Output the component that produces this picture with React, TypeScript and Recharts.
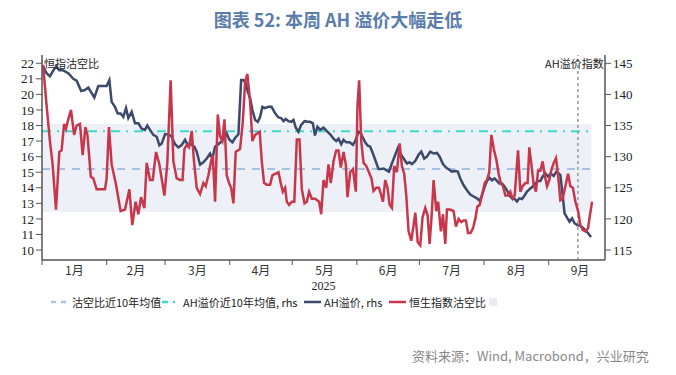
import { ComposedChart, Line, XAxis, YAxis, ReferenceArea, ReferenceLine } from 'recharts'

// x axis is "days since 1 Jan 2025"
const monthStarts = [0, 31, 59, 90, 120, 151, 181, 212, 243]
const monthMids = [15.5, 45, 74.5, 105, 135.5, 166, 196.5, 227.5, 258]
const monthNames = ['1月', '2月', '3月', '4月', '5月', '6月', '7月', '8月', '9月']
const leftTicks = [10, 11, 12, 13, 14, 15, 16, 17, 18, 19, 20, 21, 22]
const rightTicks = [115, 120, 125, 130, 135, 140, 145]

// 恒生指数沽空比 (lhs)
const shortDays = [
  0.5, 2.2, 3.8, 5.1, 6.7, 8.3, 9.4, 10.6, 11.5, 12.6, 13.9, 15.4, 16.6, 18.2, 19.5, 20.8, 21.8, 23.4, 24.6, 26.2,
  27.8, 30.2, 31.0, 32.1, 33.4, 35.5, 37.7, 39.8, 41.9, 43.3, 44.9, 46.2, 47.5, 49.1, 50.2, 51.8, 53.1, 54.7, 56.3, 58.7,
  60.1, 61.7, 63.0, 64.6, 66.2, 67.4, 68.3, 69.4, 70.5, 71.8, 72.9, 74.2, 75.8, 77.4, 78.5, 79.8, 81.1, 81.9, 83.0, 84.3,
  85.4, 86.5, 87.5, 88.6, 89.7, 90.7, 91.8, 92.9, 93.9, 95.0, 96.3, 97.4, 98.5, 99.8, 100.9, 102.2, 103.3, 104.4, 105.4, 106.5,
  107.8, 109.4, 110.5, 111.8, 113.4, 114.5, 115.5, 116.6, 117.4, 118.5, 119.8, 121.0, 122.2, 123.5, 124.6, 125.9, 127.0, 128.1, 129.4, 131.0,
  132.9, 133.9, 135.0, 136.3, 137.4, 138.5, 139.8, 141.1, 142.2, 143.3, 144.6, 145.7, 146.5, 147.8, 149.1, 150.5, 151.3, 152.1, 153.1, 154.2,
  155.5, 156.8, 158.0, 159.0, 160.3, 161.6, 162.5, 163.5, 164.6, 165.7, 166.7, 167.8, 168.9, 170.2, 171.5, 172.6, 173.7, 174.7, 175.8, 177.1,
  178.2, 179.0, 180.2, 181.4, 182.5, 183.8, 184.9, 185.9, 187.0, 187.8, 189.1, 190.0, 191.3, 192.3, 193.4, 194.2, 195.8, 197.4, 198.5, 199.8,
  201.1, 202.2, 203.3, 204.3, 205.5, 206.7, 207.8, 208.8, 209.9, 211.0, 212.3, 213.4, 214.5, 215.5, 216.8, 217.9, 219.0, 220.0, 221.1, 222.2,
  223.5, 224.6, 225.7, 226.7, 227.5, 228.3, 229.4, 230.5, 231.8, 232.9, 233.7, 234.7, 235.8, 236.9, 237.9, 239.0, 240.1, 241.1, 242.2, 243.3,
  244.2, 245.4, 246.5, 247.5, 248.6, 249.7, 251.0, 252.3, 253.4, 254.6, 255.8, 257.1, 258.2, 259.3, 260.6, 261.9, 262.5, 263.8,
]
const shortRatio = [
  21.9, 19.3, 17.0, 15.5, 12.6, 16.3, 16.4, 18.1, 17.8, 18.4, 19.0, 17.4, 18.0, 18.1, 16.1, 17.9, 17.4, 14.7, 14.6, 13.9,
  13.9, 13.9, 14.6, 17.9, 15.5, 14.2, 12.5, 12.6, 13.9, 11.6, 13.1, 12.3, 13.4, 12.7, 15.6, 14.5, 14.5, 16.3, 15.5, 13.5,
  15.6, 20.9, 15.7, 14.6, 14.5, 14.5, 16.5, 16.75, 16.6, 17.65, 15.7, 14.0, 13.6, 14.3, 14.1, 14.8, 15.7, 16.1, 13.1, 18.7,
  17.3, 17.0, 18.4, 14.8, 14.3, 14.0, 13.0, 16.3, 16.4, 16.5, 18.25, 20.8, 21.3, 19.5, 17.0, 17.4, 17.5, 17.6, 15.7, 14.3,
  14.2, 14.2, 14.8, 14.9, 15.0, 14.3, 13.75, 14.0, 13.1, 12.9, 13.1, 13.1, 17.1, 17.1, 13.9, 13.0, 13.1, 13.75, 13.3, 13.3,
  13.1, 12.3, 14.5, 14.0, 15.5, 14.3, 15.7, 16.4, 16.4, 15.3, 16.3, 15.5, 13.4, 15.0, 15.2, 13.75, 19.3, 20.9, 17.0, 15.6,
  15.4, 15.0, 14.6, 13.8, 14.0, 14.0, 13.6, 13.1, 14.5, 14.0, 12.9, 12.7, 15.4, 15.0, 16.85, 15.4, 14.9, 13.5, 11.2, 10.6,
  11.6, 12.4, 10.5, 10.3, 12.1, 12.7, 12.25, 10.4, 12.5, 14.5, 12.5, 13.1, 11.2, 12.3, 10.4, 12.6, 12.6, 12.5, 11.5, 12.0,
  11.8, 11.9, 11.9, 11.1, 11.1, 11.4, 12.0, 12.8, 12.9, 13.5, 14.3, 14.5, 15.0, 17.4, 16.4, 15.8, 14.9, 14.3, 14.1, 13.5,
  13.5, 13.75, 13.3, 13.5, 15.0, 16.4, 13.75, 14.1, 14.3, 14.3, 16.6, 15.5, 14.2, 13.75, 15.1, 15.1, 15.7, 14.8, 14.1, 14.5,
  15.1, 15.6, 15.9, 14.8, 13.2, 13.3, 14.1, 14.9, 14.1, 14.0, 13.1, 12.5, 11.6, 11.3, 11.2, 11.4, 12.0, 13.1,
]

// AH溢价指数 (rhs)
const ahDays = [
  0.5, 2.2, 3.8, 5.1, 6.7, 8.3, 10.0, 12.6, 15.0, 16.6, 18.8, 20.6, 22.2, 23.8, 25.1, 27.0, 29.4, 31.0, 32.3, 33.4,
  35.0, 36.3, 37.7, 39.0, 40.3, 41.4, 43.0, 44.6, 46.2, 47.8, 49.4, 50.5, 51.8, 53.4, 55.0, 56.3, 57.4, 59.0, 60.6, 62.2,
  63.8, 65.4, 67.0, 68.6, 69.9, 71.5, 73.1, 74.2, 75.8, 77.4, 79.0, 80.6, 81.7, 83.0, 84.6, 86.2, 87.8, 88.6, 89.7, 91.3,
  92.6, 94.2, 95.5, 96.6, 97.7, 98.7, 99.8, 100.9, 102.2, 103.5, 104.6, 105.7, 106.9, 108.5, 110.1, 111.8, 113.4, 114.7, 115.8, 116.9,
  118.2, 119.5, 120.6, 121.7, 123.0, 124.3, 125.9, 127.5, 128.6, 129.9, 130.9, 132.1, 133.4, 135.0, 136.6, 138.2, 139.8, 141.1, 142.2, 143.5,
  144.6, 145.9, 147.5, 149.1, 150.2, 151.8, 152.9, 153.9, 155.0, 156.1, 157.4, 158.7, 160.0, 161.4, 162.5, 163.8, 165.1, 166.4, 167.8, 169.4,
  170.7, 171.8, 173.4, 175.0, 176.3, 177.4, 179.0, 180.6, 181.9, 183.3, 184.6, 186.2, 187.8, 189.4, 190.7, 192.3, 193.9, 195.5, 196.6, 198.2,
  199.4, 200.6, 202.2, 203.8, 205.4, 207.0, 208.6, 209.9, 211.0, 212.3, 213.4, 214.7, 215.8, 217.0, 218.2, 219.3, 220.6, 221.8, 223.0, 224.1,
  225.4, 226.7, 227.8, 228.9, 230.2, 231.5, 232.6, 234.2, 235.3, 236.6, 237.9, 239.0, 240.1, 241.4, 242.7, 243.9, 245.4, 246.7, 247.8, 248.6,
  249.7, 250.6, 251.8, 253.0, 254.2, 255.4, 256.7, 258.2, 259.3, 260.6, 261.9, 263.3,
]
const ahPremium = [
  144.5, 143.4, 142.9, 143.65, 144.5, 143.9, 143.9, 143.4, 142.5, 142.2, 140.55, 140.7, 141.1, 140.2, 139.5, 141.35, 141.35, 141.35, 142.3, 138.8,
  138.0, 136.95, 136.95, 136.4, 137.8, 136.2, 137.2, 135.35, 135.35, 134.5, 134.3, 135.0, 134.3, 133.5, 133.2, 131.8, 132.1, 133.6, 133.6, 133.2,
  132.0, 131.5, 131.87, 132.7, 131.87, 132.0, 131.6, 130.8, 128.7, 129.1, 129.7, 130.5, 129.7, 131.6, 132.0, 132.5, 133.2, 133.7, 132.8, 132.3,
  133.0, 133.6, 142.3, 142.3, 141.8, 140.4, 139.4, 137.5, 135.9, 135.6, 136.4, 138.0, 137.8, 138.0, 138.0, 136.95, 136.3, 136.2, 135.7, 136.05,
  135.7, 135.6, 135.9, 134.65, 134.0, 135.1, 135.7, 135.6, 135.6, 135.35, 133.4, 134.8, 134.3, 134.65, 134.1, 133.6, 132.9, 132.5, 132.9, 132.0,
  132.7, 132.3, 132.3, 131.9, 132.5, 134.0, 133.75, 133.05, 132.3, 131.8, 131.6, 130.5, 129.3, 128.0, 128.0, 128.1, 127.85, 127.6, 128.9, 130.3,
  131.4, 130.5, 129.7, 128.9, 129.1, 128.8, 129.3, 130.3, 130.8, 129.7, 130.0, 130.8, 130.5, 130.6, 130.0, 128.8, 128.2, 127.85, 127.6, 127.7,
  127.6, 126.5, 125.4, 124.6, 123.9, 123.6, 123.3, 122.9, 123.8, 125.2, 126.1, 126.6, 126.2, 126.5, 126.1, 125.7, 125.7, 125.2, 124.6, 123.8,
  123.3, 123.2, 122.8, 123.3, 123.2, 123.8, 124.4, 124.9, 125.2, 125.7, 126.1, 126.1, 126.8, 127.3, 126.8, 127.3, 126.9, 127.6, 127.3, 127.05,
  123.8, 120.9, 120.2, 119.55, 120.1, 119.3, 119.0, 118.9, 118.6, 118.2, 117.7, 117.1,
]

// 10-year means and the shaded band (lhs units)
const shortMean10y = 15.2
const ahMean10y = 134.1
const bandLow = 12.45
const bandHigh = 18.1
const lastDay = 263.5
const markerDay = 257

const shortData = shortDays.map((d, i) => ({ day: d, v: shortRatio[i] }))
const ahData = ahDays.map((d, i) => ({ day: d, v: ahPremium[i] }))
const shortMeanData = [{ day: 0, v: shortMean10y }, { day: lastDay, v: shortMean10y }]
const ahMeanData = [{ day: 0, v: ahMean10y }, { day: lastDay, v: ahMean10y }]
const xTicks = [...monthStarts, ...monthMids].sort((a, b) => a - b)

const RED = '#c8364b'
const NAVY = '#3b4a6b'
const LIGHTBLUE = '#a7c1e2'
const TEAL = '#3fd9c9'
const BAND = '#edf1f7'
const AXIS = '#555'
const CJK = '"Noto Sans CJK SC", sans-serif'
const SERIF = '"Liberation Serif", serif'

// month boundaries get a tick mark, mid-months get the label
const MonthTick = ({ x, y, payload }: any) => {
  const v = payload.value
  const idx = monthMids.indexOf(v)
  if (idx >= 0) {
    return (
      <text x={x} y={y + 15} textAnchor="middle" fontFamily={CJK} fontSize={12} fill="#333">
        {monthNames[idx]}
      </text>
    )
  }
  return <line x1={x} y1={y} x2={x} y2={y + 5} stroke={AXIS} strokeWidth={1} />
}

const LegendSample = ({ color, dash, width = 17 }: { color: string; dash?: string; width?: number }) => (
  <svg width={width} height={8} style={{ display: 'block' }}>
    <line x1={0} y1={4} x2={width} y2={4} stroke={color} strokeWidth={2.5} strokeDasharray={dash} />
  </svg>
)

export default function App() {
  const legendStyle = { position: 'absolute' as const, top: 295, fontFamily: CJK, fontSize: 11, color: '#222', whiteSpace: 'nowrap' as const, lineHeight: '14px' }
  return (
    <div style={{ position: 'absolute', left: 0, top: 0, width: 676, height: 375, background: '#fff', overflow: 'hidden' }}>
      <div style={{ position: 'absolute', top: 6, left: 0, width: 676, textAlign: 'center', fontFamily: CJK, fontWeight: 700, fontSize: 18, color: '#5a7dab' }}>
        图表 52: 本周 AH 溢价大幅走低
      </div>

      <div style={{ position: 'absolute', top: 0, left: 0 }}>
        <ComposedChart width={676} height={375} margin={{ top: 55, right: 31, bottom: 89, left: 0 }}>
          <XAxis
            xAxisId="d"
            type="number"
            dataKey="day"
            domain={[0, 270]}
            ticks={xTicks}
            interval={0}
            height={26}
            tickSize={0}
            tickMargin={0}
            allowDataOverflow
            axisLine={{ stroke: AXIS, strokeWidth: 1.5 }}
            tickLine={false}
            tick={<MonthTick />}
          />
          <YAxis
            yAxisId="l"
            domain={[9.36, 22.53]}
            ticks={leftTicks}
            allowDataOverflow
            width={42}
            interval={0}
            tickSize={6}
            axisLine={{ stroke: AXIS, strokeWidth: 1.5 }}
            tickLine={{ stroke: AXIS }}
            tick={{ fontFamily: SERIF, fontSize: 13, fill: '#222' }}
          />
          <YAxis
            yAxisId="r"
            orientation="right"
            domain={[113.4, 146.33]}
            ticks={rightTicks}
            allowDataOverflow
            width={40}
            interval={0}
            tickSize={6}
            axisLine={{ stroke: AXIS, strokeWidth: 1.5 }}
            tickLine={{ stroke: AXIS }}
            tick={{ fontFamily: SERIF, fontSize: 13, fill: '#222' }}
          />

          <ReferenceArea xAxisId="d" yAxisId="l" x1={0} x2={lastDay} y1={bandLow} y2={bandHigh} fill={BAND} fillOpacity={1} stroke="none" />

          <Line xAxisId="d" yAxisId="l" data={shortMeanData} dataKey="v" stroke={LIGHTBLUE} strokeWidth={2} strokeDasharray="8 7" dot={false} isAnimationActive={false} />
          <Line xAxisId="d" yAxisId="r" data={ahMeanData} dataKey="v" stroke={TEAL} strokeWidth={2} strokeDasharray="9 6 2 6" dot={false} isAnimationActive={false} />

          <ReferenceLine xAxisId="d" yAxisId="l" x={markerDay} stroke="#999" strokeWidth={1.5} strokeDasharray="3 3" />

          <Line xAxisId="d" yAxisId="r" data={ahData} dataKey="v" stroke={NAVY} strokeWidth={2.5} dot={false} type="linear" isAnimationActive={false} />
          <Line xAxisId="d" yAxisId="l" data={shortData} dataKey="v" stroke={RED} strokeWidth={2.5} dot={false} type="linear" isAnimationActive={false} />
        </ComposedChart>
      </div>

      <div style={{ position: 'absolute', top: 55, left: 44, fontFamily: CJK, fontSize: 11, color: '#222' }}>恒指沽空比</div>
      <div style={{ position: 'absolute', top: 55, left: 545, fontFamily: CJK, fontSize: 11, color: '#222' }}>AH溢价指数</div>

      <div style={{ position: 'absolute', top: 279, left: 0, width: 647, textAlign: 'center', fontFamily: SERIF, fontSize: 12, color: '#222' }}>2025</div>

      <div style={{ ...legendStyle, left: 51, display: 'flex', alignItems: 'center', gap: 4 }}>
        <LegendSample color={LIGHTBLUE} dash="5 5" />
        <span>沽空比近10年均值</span>
      </div>
      <div style={{ ...legendStyle, left: 162, display: 'flex', alignItems: 'center', gap: 4 }}>
        <LegendSample color={TEAL} dash="6 5 2 5" />
        <span>AH溢价近10年均值, rhs</span>
      </div>
      <div style={{ ...legendStyle, left: 304, display: 'flex', alignItems: 'center', gap: 3 }}>
        <LegendSample color={NAVY} />
        <span>AH溢价, rhs</span>
      </div>
      <div style={{ ...legendStyle, left: 389, display: 'flex', alignItems: 'center', gap: 3 }}>
        <LegendSample color={RED} />
        <span>恒生指数沽空比</span>
      </div>
      <div style={{ position: 'absolute', top: 298, left: 489, width: 8, height: 8, background: '#e9edf2' }} />

      <div style={{ position: 'absolute', top: 346, left: 412, fontFamily: CJK, fontSize: 13, color: '#888', whiteSpace: 'nowrap' }}>
        资料来源：Wind, Macrobond，兴业研究
      </div>
    </div>
  )
}
